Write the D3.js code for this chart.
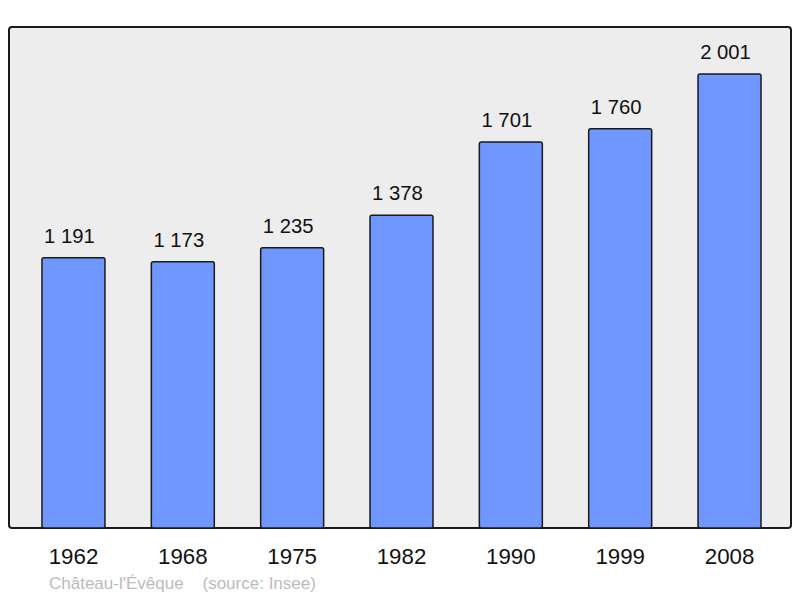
<!DOCTYPE html>
<html><head><meta charset="utf-8">
<script src="https://cdn.jsdelivr.net/npm/d3@7"></script>
<style>body{margin:0;background:#fff}svg{display:block}</style>
</head><body>
<script>
const years = ["1962","1968","1975","1982","1990","1999","2008"];
const population = [1191,1173,1235,1378,1701,1760,2001];
const valueLabels = ["1 191","1 173","1 235","1 378","1 701","1 760","2 001"];
const sourceText = "Château-l'Évêque    (source: Insee)";

const W=800,H=598;
const frame={x:9,y:27,w:782,h:501};
const svg=d3.select("body").append("svg").attr("width",W).attr("height",H);
svg.append("rect").attr("x",frame.x).attr("y",frame.y).attr("width",frame.w).attr("height",frame.h)
  .attr("rx",3).attr("fill","#ededed").attr("stroke","#1a1a1a").attr("stroke-width",2);

const x=d3.scaleBand().domain(years).range([18.8,784.2]).paddingInner(0.424).paddingOuter(0.212);
const y=d3.scaleLinear().domain([0,2001]).range([528,74]);

svg.selectAll("rect.bar").data(years).join("rect").attr("class","bar")
  .attr("x",d=>x(d)).attr("width",x.bandwidth())
  .attr("y",(d,i)=>y(population[i])).attr("height",(d,i)=>y(0)-y(population[i]))
  .attr("rx",2).attr("fill","#7097ff").attr("stroke","#1a1a1a").attr("stroke-width",1.5);

svg.selectAll("text.val").data(years).join("text").attr("class","val")
  .attr("x",d=>x(d)+x.bandwidth()/2-4).attr("y",(d,i)=>y(population[i])-15)
  .attr("text-anchor","middle").attr("font-family","Liberation Sans, Arial, sans-serif")
  .attr("font-size",20.3).attr("fill","#111").text((d,i)=>valueLabels[i]);

const ax=svg.append("g").attr("transform","translate(0,528)").call(d3.axisBottom(x).tickSize(0).tickPadding(0));
ax.select(".domain").remove();
ax.selectAll("text").attr("y",35.5).attr("dy",null).attr("font-family","Liberation Sans, Arial, sans-serif")
  .attr("font-size",22.3).attr("fill","#111");

svg.append("text").attr("x",49).attr("y",589).attr("font-family","Liberation Sans, Arial, sans-serif")
  .attr("font-size",17).attr("fill","#bbbbbb").attr("xml:space","preserve").style("white-space","pre").text(sourceText);
</script>
</body></html>
